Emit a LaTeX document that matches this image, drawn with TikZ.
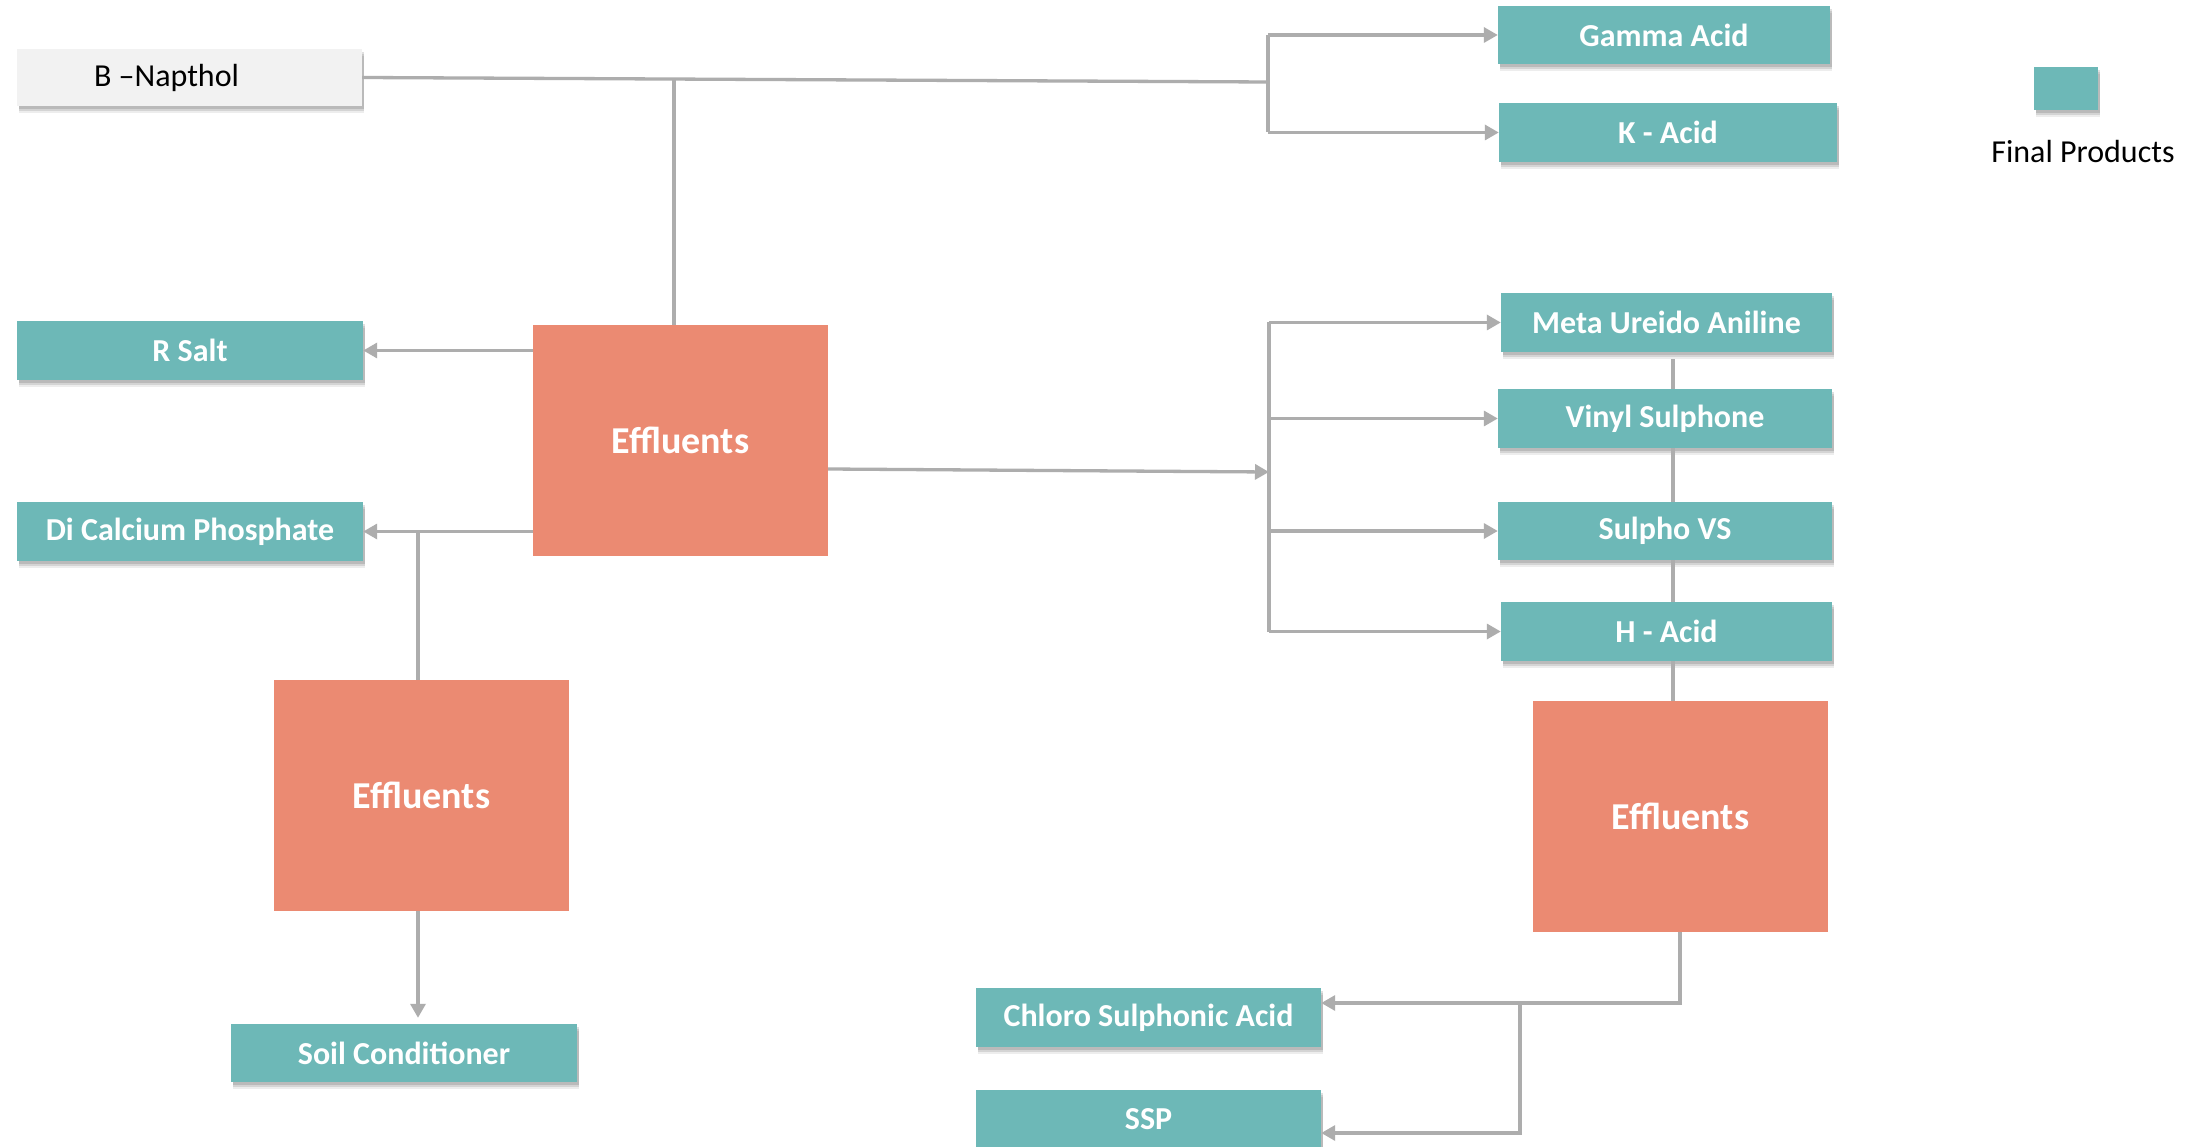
\documentclass[tikz,border=0pt]{standalone}
\usepackage{fontspec}
\setmainfont{Carlito}
\usetikzlibrary{arrows.meta,shadows}
\definecolor{teal1}{HTML}{6DB8B7}
\definecolor{salmon1}{HTML}{EB8A72}
\definecolor{line1}{HTML}{ADADAD}
\definecolor{pale1}{HTML}{F2F2F2}
\tikzset{
  softshadow/.style={
    general shadow={shadow xshift=2pt, shadow yshift=-7pt, opacity=0.07, fill=black},
    general shadow={shadow xshift=2pt, shadow yshift=-5pt, opacity=0.10, fill=black},
    general shadow={shadow xshift=2pt, shadow yshift=-3pt, opacity=0.12, fill=black}},
  prod/.style={fill=teal1, text=white, font=\fontsize{32}{37}\selectfont\bfseries, inner sep=0pt,
    softshadow},
  effl/.style={fill=salmon1, text=white, font=\fontsize{38}{44}\selectfont\bfseries, inner sep=0pt,
    minimum width=295pt, minimum height=231pt},
  conn/.style={draw=line1, line width=3.3pt},
  arr/.style={conn, -{Triangle[length=14pt,width=15pt]}}
}
\begin{document}
\begin{tikzpicture}[x=1pt,y=-1pt]
\useasboundingbox (0,0) rectangle (2198,1147);
\fill[white] (0,0) rectangle (2198,1147);

% nodes
\node[fill=pale1, text=black, font=\fontsize{32}{37}\selectfont, inner sep=0pt,
  minimum width=345pt, minimum height=57pt, softshadow]
  (bn) at (189.5,77.5) {\hspace*{-46pt}\raisebox{-4pt}{B –Napthol}};
\node[prod, minimum width=346pt, minimum height=59pt] (rsalt) at (190,350.5) {R Salt};
\node[prod, minimum width=346pt, minimum height=59pt] (dcp) at (190,531.5) {Di Calcium Phosphate};
\node[effl] (eff1) at (680.5,440.5) {Effluents};
\node[effl] (eff2) at (421.5,795.5) {Effluents};
\node[prod, minimum width=346pt, minimum height=58pt] (soil) at (404,1053) {Soil Conditioner};
\node[prod, minimum width=332pt, minimum height=58pt] (gamma) at (1664,35) {Gamma Acid};
\node[prod, minimum width=338pt, minimum height=59pt] (kacid) at (1668,132.5) {K - Acid};
\node[prod, minimum width=331pt, minimum height=59pt] (meta) at (1666.5,322.5) {Meta Ureido Aniline};
\node[prod, minimum width=334pt, minimum height=59pt] (vinyl) at (1665,418.5) {Vinyl Sulphone};
\node[prod, minimum width=334pt, minimum height=58pt] (sulpho) at (1665,531) {Sulpho VS};
\node[prod, minimum width=331pt, minimum height=59pt] (hacid) at (1666.5,631.5) {H - Acid};
\node[effl] (eff3) at (1680.5,816.5) {Effluents};
\node[prod, minimum width=345pt, minimum height=59pt] (chloro) at (1148.5,1017.5) {Chloro Sulphonic Acid};
\node[prod, minimum width=345pt, minimum height=59pt] (ssp) at (1148.5,1119.5) {SSP};
\node[prod, minimum width=64pt, minimum height=43pt] (legend) at (2066,88.5) {};
\node[font=\fontsize{32}{37}\selectfont, inner sep=0pt] (legendtxt) at (2083,152) {Final Products};

% coordinates
\coordinate (j1) at (1268,82);
\coordinate (t1) at (674,79);
\coordinate (j2) at (1269,472);
\coordinate (vx) at (1673,0);
\coordinate (j3) at (1680,1003);
\coordinate (j4) at (1520,1003);
\coordinate (j5) at (1520,1133);
\coordinate (ex) at (418,0);

% B-Napthol line and branch
\draw[conn] (bn.east) -- (j1);
\draw[conn] (j1 |- gamma.west) -- (j1 |- kacid.west);
\draw[arr] (j1 |- gamma.west) -- (gamma.west);
\draw[arr] (j1 |- kacid.west) -- (kacid.west);
\draw[conn] (t1) -- (t1 |- eff1.north);

% Effluents 1 left side
\draw[arr] (eff1.west |- rsalt.east) -- (rsalt.east);
\draw[arr] (eff1.west |- dcp.east) -- (dcp.east);
\draw[conn] (ex |- dcp.east) -- (ex |- eff2.north);
\draw[arr, shorten >=6pt] (ex |- eff2.south) -- (ex |- soil.north);

% Effluents 1 right side
\draw[arr] (eff1.east |- 0,469) -- (j2);
\draw[conn] (j2 |- meta.west) -- (j2 |- hacid.west);
\draw[arr] (j2 |- meta.west) -- (meta.west);
\draw[arr] (j2 |- vinyl.west) -- (vinyl.west);
\draw[arr] (j2 |- sulpho.west) -- (sulpho.west);
\draw[arr] (j2 |- hacid.west) -- (hacid.west);

% stacked connectors
\draw[conn] ([yshift=-7pt]meta.south -| vx) -- (vinyl.north -| vx);
\draw[conn] (vinyl.south -| vx) -- (sulpho.north -| vx);
\draw[conn] (sulpho.south -| vx) -- (hacid.north -| vx);
\draw[conn] (hacid.south -| vx) -- (eff3.north -| vx);

% Effluents 3 bottom
\draw[arr] (eff3.south -| j3) -- (j3) -- (chloro.east |- j3);
\draw[arr] (j4) -- (j5) -- (ssp.east |- j5);
\end{tikzpicture}
\end{document}
